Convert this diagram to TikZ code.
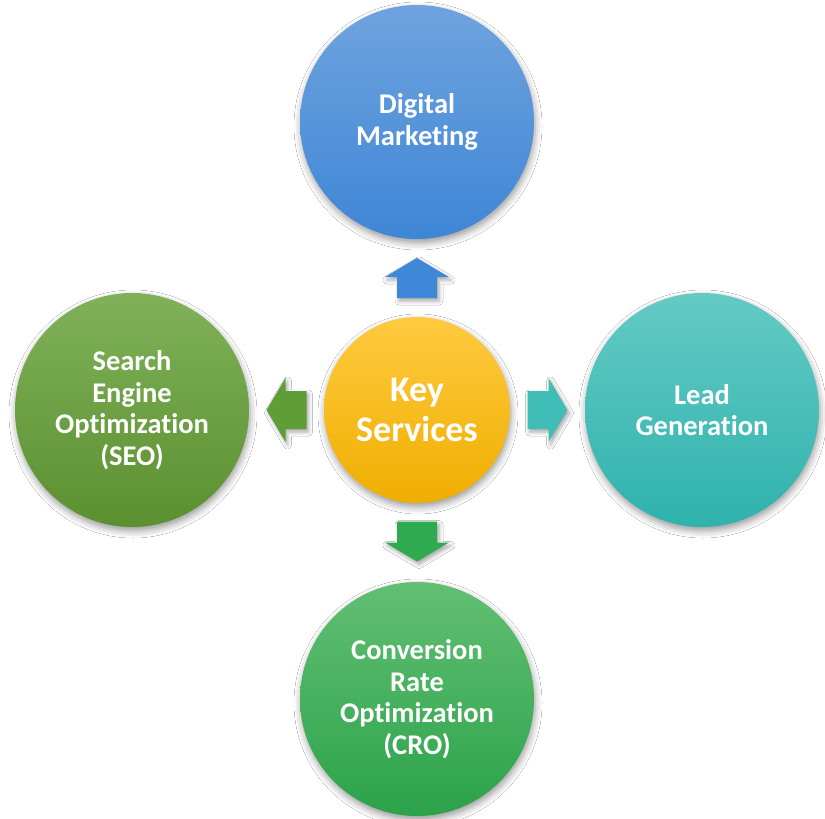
\documentclass[tikz,border=0pt]{standalone}
\usepackage{fontspec}
\setmainfont[Ligatures={NoCommon}]{Carlito}
\usetikzlibrary{calc,shadows.blur}
\definecolor{blueT}{HTML}{6FA3DE}\definecolor{blueB}{HTML}{3E86D6}
\definecolor{orT}{HTML}{FFCA40}\definecolor{orB}{HTML}{EFAE00}
\definecolor{lgT}{HTML}{80B159}\definecolor{lgB}{HTML}{5B9030}
\definecolor{tlT}{HTML}{64CAC4}\definecolor{tlB}{HTML}{2FB2AD}
\definecolor{grT}{HTML}{62BF73}\definecolor{grB}{HTML}{2CA24A}
\definecolor{arBlue}{HTML}{3F88D8}
\definecolor{arLg}{HTML}{5F9E36}
\definecolor{arTl}{HTML}{3FBDB6}
\definecolor{arGr}{HTML}{2EAA50}
\tikzset{
  sh/.style={blur shadow={shadow xshift=1pt,shadow yshift=-4pt,shadow blur radius=7pt,shadow opacity=40}},
  ashad/.style={blur shadow={shadow xshift=2pt,shadow yshift=-3pt,shadow blur radius=4pt,shadow opacity=35}},
  outer/.style={circle,draw=none,minimum size=234pt,inner sep=0pt,text=white,align=center,
    font=\fontsize{28.5}{31.5}\selectfont\bfseries,sh},
  hub/.style={circle,draw=none,minimum size=186pt,inner sep=0pt,text=white,align=center,
    font=\fontsize{36}{40}\selectfont\bfseries,sh},
}
\begin{document}
\begin{tikzpicture}[x=1pt,y=-1pt]
\useasboundingbox[fill=white] (0,0) rectangle (825,819);
\node[outer,top color=blueT,bottom color=blueB] (t) at (417,122) {Digital\\Marketing};
\node[outer,top color=lgT,bottom color=lgB] (l) at (132,410) {Search\\Engine\\Optimization\\(SEO)};
\node[outer,top color=tlT,bottom color=tlB] (r) at (702,410) {Lead\\Generation};
\node[outer,top color=grT,bottom color=grB] (b) at (417,699) {Conversion\\Rate\\Optimization\\(CRO)};
\node[hub,top color=orT,bottom color=orB] (c) at (417,410) {Key\\Services};
\coordinate (au) at ($(c.north)!0.5!(t.south)$);
\coordinate (ad) at ($(c.south)!0.5!(b.north)$);
\coordinate (al) at ($(c.west)!0.5!(l.east)$);
\coordinate (ar) at ($(c.east)!0.5!(r.west)$);
\fill[arBlue,ashad] ($(au)+(-20,20)$) -- ($(au)+(-20,-1)$) -- ($(au)+(-32,-1)$) -- ($(au)+(0,-20)$)
  -- ($(au)+(32,-1)$) -- ($(au)+(20,-1)$) -- ($(au)+(20,20)$) -- cycle;
\fill[arGr,ashad] ($(ad)+(-20,-21)$) -- ($(ad)+(-20,0)$) -- ($(ad)+(-32,0)$) -- ($(ad)+(0,19)$)
  -- ($(ad)+(32,0)$) -- ($(ad)+(20,0)$) -- ($(ad)+(20,-21)$) -- cycle;
\fill[arLg,ashad] ($(al)+(20,-19)$) -- ($(al)+(-1,-19)$) -- ($(al)+(-1,-32)$) -- ($(al)+(-20,0)$)
  -- ($(al)+(-1,32)$) -- ($(al)+(-1,19)$) -- ($(al)+(20,19)$) -- cycle;
\fill[arTl,ashad] ($(ar)+(-20,-19)$) -- ($(ar)+(1,-19)$) -- ($(ar)+(1,-32)$) -- ($(ar)+(20,0)$)
  -- ($(ar)+(1,32)$) -- ($(ar)+(1,19)$) -- ($(ar)+(-20,19)$) -- cycle;
\end{tikzpicture}
\end{document}
